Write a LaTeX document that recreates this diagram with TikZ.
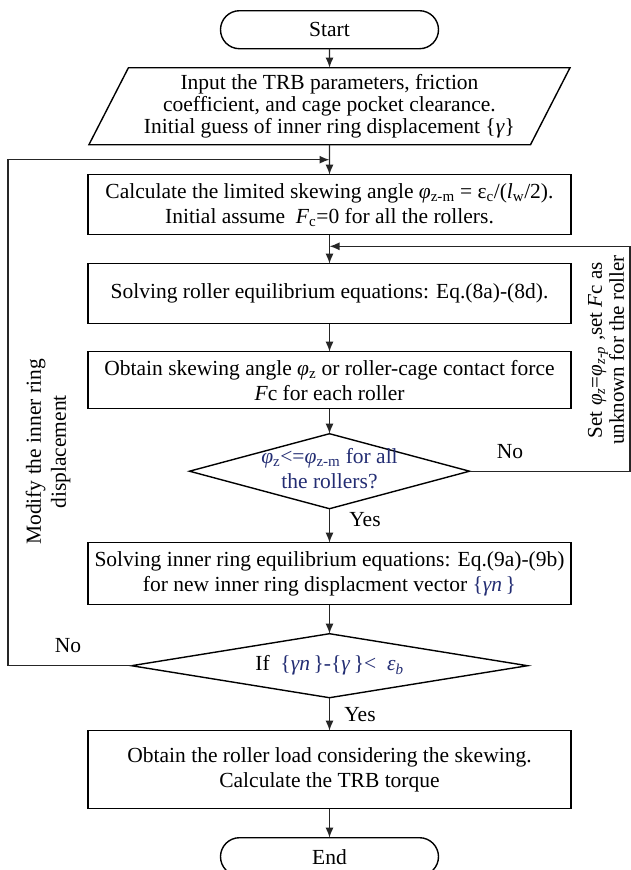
\documentclass[tikz,border=0pt]{standalone}
\usepackage{fontspec}
\setmainfont{Liberation Serif}
\usepackage{tikz}
\usetikzlibrary{shapes.geometric, arrows.meta, calc}
\definecolor{mathblue}{RGB}{35,45,115}
\tikzset{
  font={\fontsize{21.5}{25}\selectfont},
  termbox/.style={draw, shape=rectangle, rounded corners=19pt, minimum width=218pt, minimum height=38pt, outer sep=0pt},
  iobox/.style={draw, shape=trapezium, trapezium left angle=60, trapezium right angle=120,
    trapezium stretches=true, minimum width=483pt, minimum height=77pt, align=center, inner sep=0pt, outer sep=0pt,
    font={\fontsize{21.5}{21.7}\selectfont}},
  procbox/.style={draw, shape=rectangle, minimum width=483pt, align=center, inner sep=2pt, outer sep=0pt},
  decbox/.style={draw, shape=diamond, inner sep=0pt, outer sep=0pt},
  flow/.style={-{Latex[length=10pt,width=8pt]}, line width=1.4pt}}

\begin{document}
\begin{tikzpicture}[x=1pt, y=-1pt, line width=1.4pt, draw=black!85]
  \useasboundingbox (0,0) rectangle (631,870);
  \matrix (chart) [row sep=0pt, inner sep=0pt, anchor=north] at (329.5,9.3) {
  \node (start) [termbox] {Start}; \\[17.6pt]
  \node (inp) [iobox] {Input the TRB parameters, friction\\coefficient, and cage pocket clearance.\\Initial guess of inner ring displacement \{\textit{γ}\}}; \\[28.6pt]
  \node (calc) [procbox, minimum height=60pt] {Calculate the limited skewing angle \textit{φ}\textsubscript{z-m} = ε\textsubscript{c}/(\textit{l}\textsubscript{w}/2).\\Initial assume \ \textit{F}\textsubscript{c}=0 for all the rollers.}; \\[27.6pt]
  \node (roll) [procbox, minimum height=60pt] {Solving roller equilibrium equations: Eq.(8a)-(8d).}; \\[26.6pt]
  \node (skew) [procbox, minimum height=57pt] {Obtain skewing angle \textit{φ}\textsubscript{z} or roller-cage contact force\\\textit{F}c for each roller}; \\[23.6pt]
  \node (check) [decbox, minimum width=280pt, minimum height=75pt] {\makebox[0pt]{\color{mathblue}\begin{tabular}{@{}c@{}}\textit{φ}\textsubscript{z}<=\textit{φ}\textsubscript{z-m} for all\\the rollers?\end{tabular}}}; \\[32.6pt]
  \node (ring) [procbox, minimum height=62pt] {Solving inner ring equilibrium equations: Eq.(9a)-(9b)\\for new inner ring displacment vector {\color{mathblue}\{\textit{γn}\,\}}}; \\[27.6pt]
  \node (conv) [decbox, minimum width=396pt, minimum height=64pt] {\makebox[0pt]{If \ {\color{mathblue}\{\textit{γn}\,\}-\{\textit{γ}\,\}< \ \textit{ε}\textsubscript{\textit{b}}}}}; \\[31.6pt]
  \node (load) [procbox, minimum height=78pt] {Obtain the roller load considering the skewing.\\Calculate the TRB torque}; \\[27.6pt]
  \node (end) [termbox] {End}; \\
  };
  \coordinate (lj) at ($(inp.south)!0.5!(calc.north)$);
  \coordinate (rj) at ($(calc.south)!0.4!(roll.north)$);
  \coordinate (leftx) at (8,0);
  \coordinate (rightx) at (630,0);
  \draw[flow] (start) -- (inp);
  \draw[flow] (inp) -- (calc);
  \draw[flow] (calc) -- (roll);
  \draw[flow] (roll) -- (skew);
  \draw[flow] (skew) -- (check);
  \draw[flow] (check) -- (ring);
  \draw[flow] (ring) -- (conv);
  \draw[flow] (conv) -- (load);
  \draw[flow] (load) -- (end);
  \draw[flow] (check.east) -- (check.east -| rightx) |- (rj);
  \draw[flow] (conv.west) -- (conv.west -| leftx) |- (lj);
  \node (no1) at (510,452) {No};
  \node (yes1) at (365,520) {Yes};
  \node (no2) at (68,646) {No};
  \node (yes2) at (360,715) {Yes};
  \node (modify) [rotate=90, align=center] at (48,452) {Modify the inner ring\\displacement};
  \node (reset) [rotate=90, align=center, inner sep=1pt, font={\fontsize{21}{21}\selectfont}] at (606,350) {Set \textit{φ}\textsubscript{\textit{z}}=\textit{φ}\textsubscript{\textit{z-p}} ,set \textit{F}c as\\unknown for the roller};
\end{tikzpicture}
\end{document}
